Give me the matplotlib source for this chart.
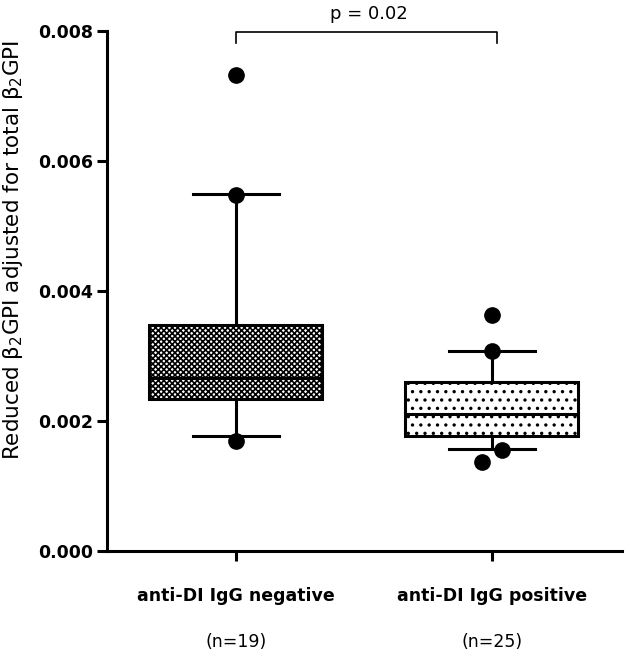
import matplotlib
matplotlib.use("Agg")
import matplotlib.pyplot as plt

# values
groups = ["anti-DI IgG negative", "anti-DI IgG positive"]
counts = ["(n=19)", "(n=25)"]
q1 = [0.00234, 0.00177]
medians = [0.00266, 0.00211]
q3 = [0.00347, 0.00260]
whis_lo = [0.00177, 0.00157]
whis_hi = [0.00549, 0.00308]
points_y = [[0.00732, 0.00548, 0.00169],
            [0.00363, 0.00308, 0.00155, 0.00137]]
points_dx = [[0.0, 0.0, 0.0],
             [0.0, 0.0, 0.04, -0.04]]
hatches = ["xxxxxx", ".."]
p_text = "p = 0.02"
yticks = [0.000, 0.002, 0.004, 0.006, 0.008]

plt.rcParams["hatch.linewidth"] = 1.2
fig = plt.figure(figsize=(6.25, 6.55), dpi=100)
ax = fig.add_axes([0.1712, 0.1588, 0.8238, 0.7939])

stats = []
for i in range(len(groups)):
    stats.append(dict(med=medians[i], q1=q1[i], q3=q3[i],
                      whislo=whis_lo[i], whishi=whis_hi[i], fliers=[]))

lw = 2.2
pos = [1, 2]
bp = ax.bxp(stats, positions=pos, widths=0.676, patch_artist=True,
            showfliers=False,
            boxprops=dict(linewidth=lw, edgecolor="black"),
            medianprops=dict(linewidth=lw, color="black"),
            whiskerprops=dict(linewidth=lw, color="black"),
            capprops=dict(linewidth=lw, color="black"),
            capwidths=0.335)
for patch, h in zip(bp["boxes"], hatches):
    patch.set_facecolor("white")
    patch.set_hatch(h)

for i in range(len(groups)):
    xs = [pos[i] + d for d in points_dx[i]]
    ax.plot(xs, points_y[i], "o", color="black", ms=11, zorder=5)

ax.set_xlim(0.496, 2.508)
ax.set_ylim(0, 0.008)
ax.set_yticks(yticks)
ax.set_yticklabels(["%.3f" % v for v in yticks], fontsize=12.5,
                   fontweight="bold")
ax.set_xticks(pos)
ax.set_xticklabels(groups, fontsize=12.5, fontweight="bold")
ax.tick_params(axis="x", length=7, width=lw, pad=19)
ax.tick_params(axis="y", length=7, width=lw, pad=3)
for s in ["top", "right"]:
    ax.spines[s].set_visible(False)
for s in ["left", "bottom"]:
    ax.spines[s].set_linewidth(lw)

for i in range(len(groups)):
    ax.text(pos[i], -0.00140, counts[i], ha="center", va="center",
            fontsize=12.5)

ax.set_ylabel(r"Reduced $\mathregular{\beta_2}$GPI adjusted for total $\mathregular{\beta_2}$GPI",
              fontsize=15.5)
ax.yaxis.set_label_coords(-0.160, 0.579)

# significance bracket
ax.plot([1, 1, 2.02, 2.02], [0.00781, 0.00798, 0.00798, 0.00781],
        color="black", lw=1.2, clip_on=False)
ax.text(1.52, 0.00812, p_text, ha="center", va="bottom", fontsize=13,
        clip_on=False)

fig.savefig("out.png", dpi=100)
